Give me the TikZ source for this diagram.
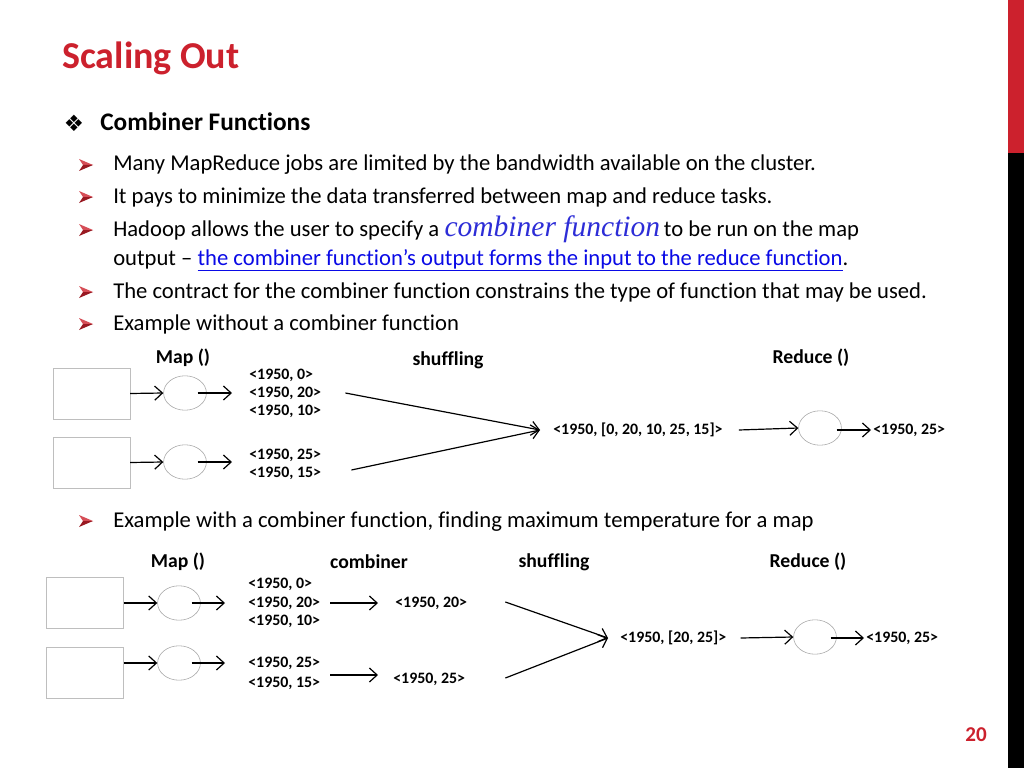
\documentclass[tikz,border=0pt]{standalone}
\usepackage{fontspec}
\setmainfont{Carlito}[Ligatures={NoCommon}]
\newfontfamily\dingfont{DejaVu Sans}
\newfontfamily\serifit{Liberation Serif}
\usepackage{tikz}
\usetikzlibrary{shapes.geometric,arrows.meta,positioning,calc}
\usepackage{xcolor}
\definecolor{slidered}{RGB}{204,33,45}
\definecolor{linkblue}{RGB}{10,10,230}
\definecolor{fnblue}{RGB}{45,45,215}
\definecolor{boxgray}{RGB}{190,190,190}

\begin{document}
\begin{tikzpicture}[x=0.025cm, y=-0.025cm, >={Straight Barb[length=5.5pt,width=10pt]},
    font=\fontsize{16.1}{19}\selectfont,
    inbox/.style={draw=boxgray, minimum width=1.92cm, minimum height=1.28cm},
    mapper/.style={draw=black!35, ellipse, minimum width=1.07cm, minimum height=0.86cm},
    kv/.style={anchor=west, inner sep=0pt, font=\fontsize{11.3}{13}\selectfont\bfseries},
    hdr/.style={font=\fontsize{14}{16}\selectfont\bfseries},
    txt/.style={anchor=base west, inner sep=0pt},
    flow/.style={->, line width=0.85pt},
    redtip/.pic={
        \fill[slidered!80] (-7,-6) -- (7,0) -- (-3,0) -- cycle;
        \fill[slidered!75!black] (-7,6) -- (7,0) -- (-3,0) -- cycle;
    }]
    % slide frame
    \fill[white] (0,0) rectangle (1024,768);
    \useasboundingbox (0,0) rectangle (1024,768);
    \fill[slidered] (1008,0) rectangle (1024,153);
    \fill[black] (1008,153) rectangle (1024,768);
    \node[txt, font=\fontsize{27}{30}\selectfont\bfseries, text=slidered] (title) at (62,69) {Scaling Out};
    \node[text=slidered, font=\fontsize{15}{17}\selectfont\bfseries] (page) at (976,735) {20};

    % bullets
    \node[font=\dingfont\fontsize{16}{18}\selectfont] (dia) at (74,123) {❖};
    \node[txt, font=\fontsize{18}{21}\selectfont\bfseries] (sub) at (100,131) {Combiner Functions};
    \foreach \y in {165,197,230,292,324,521}
        \pic at (86,\y) {redtip};
    \node[txt] (l1) at (113,171) {Many MapReduce jobs are limited by the bandwidth available on the cluster.};
    \node[txt] (l2) at (113,203) {It pays to minimize the data transferred between map and reduce tasks.};
    \node[txt] (l3) at (113,236) {Hadoop allows the user to specify a \textcolor{fnblue}{\serifit\itshape\fontsize{21}{22}\selectfont combiner function}\,to be run on the map};
    \node[txt] (l3b) at (113,265) {output – \textcolor{linkblue}{\underline{the combiner function’s output forms the input to the reduce function}}.};
    \node[txt] (l4) at (113,298) {The contract for the combiner function constrains the type of function that may be used.};
    \node[txt] (l5) at (113,330) {Example without a combiner function};
    \node[txt] (l6) at (113,527) {Example with a combiner function, finding maximum temperature for a map};

    % without combiner
    \node[hdr] (hmap1) at (183,358) {Map ()};
    \node[hdr] (hshuf1) at (448,360) {shuffling};
    \node[hdr] (hred1) at (811,358) {Reduce ()};
    \node[inbox] (in1) at (91.5,393.5) {};
    \node[inbox] (in2) at (91.5,462.5) {};
    \node[mapper] (m1) at (185,393) {};
    \node[mapper] (m2) at (185,462) {};
    \node[kv] (k11) at (249,375) {<1950, 0>};
    \node[kv] (k12) at (249,393) {<1950, 20>};
    \node[kv] (k13) at (249,411) {<1950, 10>};
    \node[kv] (k21) at (249,455) {<1950, 25>};
    \node[kv] (k22) at (249,473) {<1950, 15>};
    \node[kv] (s1) at (553,430) {<1950, [0, 20, 10, 25, 15]>};
    \node[mapper] (r1) at (820,428) {};
    \node[kv] (o1) at (873,430) {<1950, 25>};
    \draw[flow] (in1.east) -- (m1.west);
    \draw[flow] (in2.east) -- (m2.west);
    \draw[flow] ($(m1.east)+(-9,0)$) -- ($(k12.west)+(-17,0)$);
    \draw[flow] ($(m2.east)+(-9,0)$) -- ($(k21.west)+(-17,7)$);
    \draw[flow] ($(k12.east)+(24,0)$) -- ($(s1.west)+(-13,0)$);
    \draw[flow] ($(k22.east)+(30,-3)$) -- ($(s1.west)+(-13,0)$);
    \draw[flow] ($(s1.east)+(16,0)$) -- (r1.west);
    \draw[flow] ($(r1.east)+(-5,2)$) -- ($(o1.west)+(-2,0)$);

    % with combiner
    \node[hdr] (hmap2) at (178,562) {Map ()};
    \node[hdr] (hcomb) at (369,562) {combiner};
    \node[hdr] (hshuf2) at (554,562) {shuffling};
    \node[hdr] (hred2) at (808,562) {Reduce ()};
    \node[inbox] (in3) at (85,603) {};
    \node[inbox] (in4) at (85,672.5) {};
    \node[mapper] (m3) at (179,603) {};
    \node[mapper] (m4) at (179,663) {};
    \node[kv] (q11) at (248,584) {<1950, 0>};
    \node[kv] (q12) at (248,603) {<1950, 20>};
    \node[kv] (q13) at (248,621) {<1950, 10>};
    \node[kv] (q21) at (248,663) {<1950, 25>};
    \node[kv] (q22) at (248,683) {<1950, 15>};
    \node[kv] (c1) at (395,603) {<1950, 20>};
    \node[kv] (c2) at (393,679) {<1950, 25>};
    \node[kv] (s2) at (620,638) {<1950, [20, 25]>};
    \node[mapper] (r2) at (815,637) {};
    \node[kv] (o2) at (866,638) {<1950, 25>};
    \draw[flow] (in3.east) -- (m3.west);
    \draw[flow] ($(in4.east)+(0,-9.5)$) -- (m4.west);
    \draw[flow] ($(m3.east)+(-9,0)$) -- ($(q12.west)+(-23,0)$);
    \draw[flow] ($(m4.east)+(-9,0)$) -- ($(q21.west)+(-23,0)$);
    \draw[flow] ($(q12.east)+(10,0)$) -- ($(c1.west)+(-17,0)$);
    \draw[flow] ($(q22.east)+(10,-8)$) -- ($(c2.west)+(-15,-4)$);
    \draw[flow] ($(c1.east)+(38,-1)$) -- ($(s2.west)+(-12,0)$);
    \draw[flow] ($(c2.east)+(40,-1)$) -- ($(s2.west)+(-12,0)$);
    \draw[flow] ($(s2.east)+(14,0)$) -- (r2.west);
    \draw[flow] ($(r2.east)+(-6,1)$) -- ($(o2.west)+(-2,0)$);
\end{tikzpicture}
\end{document}
